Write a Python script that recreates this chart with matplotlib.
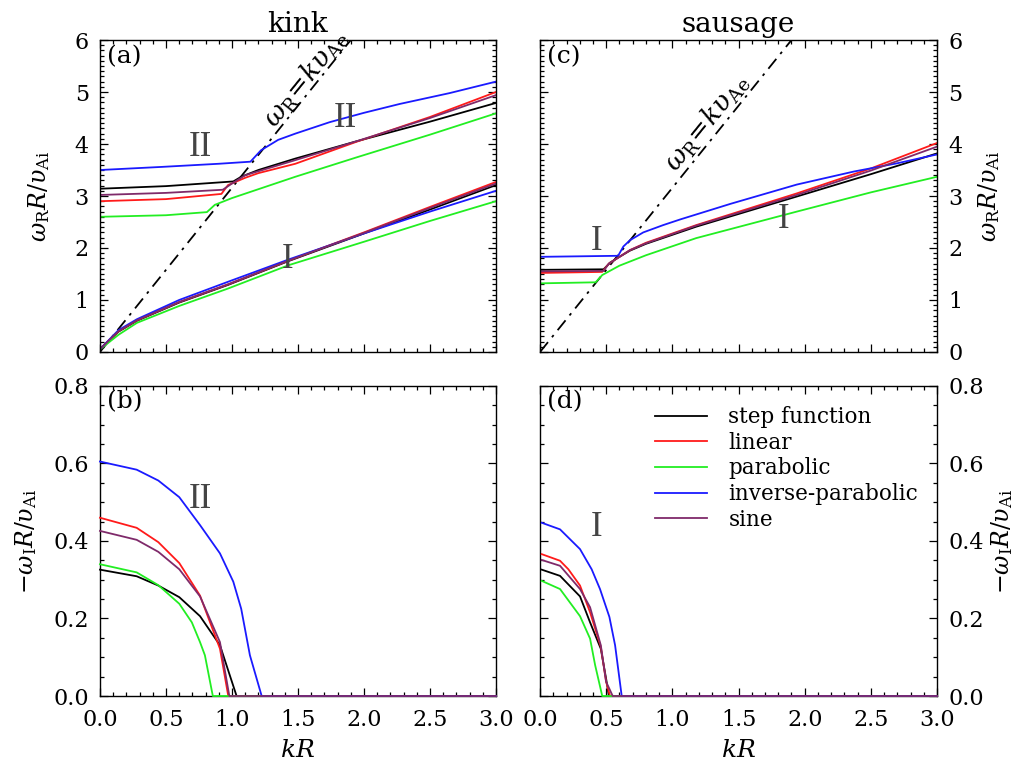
"""Kink / sausage dispersion diagrams: real and imaginary frequency vs kR
for five transition-layer profiles."""

import matplotlib
matplotlib.use("Agg")
import matplotlib.pyplot as plt
from matplotlib.ticker import MultipleLocator, FormatStrFormatter

plt.rcParams["font.family"] = ["DejaVu Serif", "DejaVu Sans"]
plt.rcParams["mathtext.fontset"] = "dejavuserif"

profiles = ["step function", "linear", "parabolic", "inverse-parabolic", "sine"]
colors = {"step function": "black", "linear": "#ff1a1a", "parabolic": "#22ee22",
          "inverse-parabolic": "#1a1aff", "sine": "#7f2a6a"}

# --- (a) kink, real part, branch II (upper) ---
kinkII_k = {
    "step function": [0.0, 0.5, 1.01, 1.07, 1.2, 1.48, 1.94, 2.5, 3.0],
    "linear": [0.0, 0.5, 0.92, 0.97, 1.1, 1.2, 1.48, 1.94, 2.5, 3.0],
    "parabolic": [0.0, 0.5, 0.81, 0.87, 1.0, 1.48, 1.94, 2.5, 3.0],
    "inverse-parabolic": [0.0, 0.47, 0.9, 1.14, 1.22, 1.35, 1.48, 1.74, 2.0,
                          2.27, 2.65, 3.0],
    "sine": [0.0, 0.5, 0.93, 1.0, 1.1, 1.48, 1.94, 2.5, 3.0],
}
kinkII_w = {
    "step function": [3.14, 3.19, 3.28, 3.37, 3.50, 3.72, 4.05, 4.43, 4.79],
    "linear": [2.90, 2.94, 3.04, 3.21, 3.35, 3.44, 3.62, 4.04, 4.52, 5.00],
    "parabolic": [2.60, 2.63, 2.69, 2.83, 2.96, 3.37, 3.74, 4.18, 4.59],
    "inverse-parabolic": [3.50, 3.56, 3.62, 3.66, 3.88, 4.08, 4.20, 4.42, 4.60,
                          4.77, 4.98, 5.20],
    "sine": [3.02, 3.06, 3.12, 3.24, 3.40, 3.69, 4.05, 4.50, 4.94],
}

# --- (a) kink, real part, branch I (lower) ---
kinkI_k = [0.01, 0.14, 0.28, 0.6, 0.97, 1.43, 2.0, 2.5, 3.0]
kinkI_w = {
    "step function": [0.08, 0.39, 0.60, 0.95, 1.29, 1.75, 2.28, 2.74, 3.21],
    "linear": [0.08, 0.40, 0.61, 0.96, 1.30, 1.76, 2.30, 2.79, 3.27],
    "parabolic": [0.07, 0.33, 0.56, 0.885, 1.22, 1.67, 2.12, 2.52, 2.90],
    "inverse-parabolic": [0.08, 0.42, 0.63, 1.00, 1.35, 1.78, 2.28, 2.70, 3.10],
    "sine": [0.08, 0.40, 0.61, 0.96, 1.30, 1.76, 2.29, 2.77, 3.24],
}

# --- (b) kink, damping rate ---
kink_im_k = {
    "step function": [0.0, 0.278, 0.442, 0.601, 0.758, 0.909, 1.035, 3.0],
    "linear": [0.0, 0.278, 0.442, 0.601, 0.758, 0.909, 0.972, 3.0],
    "parabolic": [0.0, 0.278, 0.442, 0.601, 0.696, 0.758, 0.795, 0.855, 3.0],
    "inverse-parabolic": [0.0, 0.278, 0.442, 0.601, 0.758, 0.909, 1.01, 1.07,
                          1.136, 1.225, 3.0],
    "sine": [0.0, 0.278, 0.442, 0.601, 0.758, 0.909, 0.98, 3.0],
}
kink_im_w = {
    "step function": [0.326, 0.309, 0.285, 0.255, 0.206, 0.131, 0.0, 0.0],
    "linear": [0.460, 0.434, 0.397, 0.343, 0.259, 0.122, 0.0, 0.0],
    "parabolic": [0.340, 0.319, 0.286, 0.238, 0.190, 0.139, 0.105, 0.0, 0.0],
    "inverse-parabolic": [0.605, 0.584, 0.556, 0.513, 0.441, 0.368, 0.295,
                          0.225, 0.105, 0.0, 0.0],
    "sine": [0.426, 0.403, 0.372, 0.327, 0.257, 0.139, 0.0, 0.0],
}

# --- (c) sausage, real part ---
saus_k = {
    "step function": [0.0, 0.48, 0.53, 0.6, 0.68, 0.8, 1.18, 1.94, 2.5, 3.0],
    "linear": [0.0, 0.47, 0.52, 0.6, 0.68, 0.8, 1.18, 1.94, 2.5, 3.0],
    "parabolic": [0.0, 0.42, 0.47, 0.6, 0.8, 1.18, 1.94, 2.5, 3.0],
    "inverse-parabolic": [0.0, 0.59, 0.63, 0.68, 0.78, 0.93, 1.06, 1.44, 1.94,
                          2.37, 2.7, 3.0],
    "sine": [0.0, 0.48, 0.52, 0.6, 0.68, 0.8, 1.18, 1.94, 2.5, 3.0],
}
saus_w = {
    "step function": [1.58, 1.59, 1.72, 1.83, 1.95, 2.08, 2.41, 2.99, 3.42, 3.82],
    "linear": [1.52, 1.54, 1.70, 1.83, 1.96, 2.10, 2.44, 3.05, 3.53, 4.02],
    "parabolic": [1.32, 1.34, 1.48, 1.66, 1.86, 2.19, 2.70, 3.07, 3.37],
    "inverse-parabolic": [1.83, 1.85, 2.03, 2.15, 2.30, 2.44, 2.55, 2.85, 3.22,
                          3.47, 3.63, 3.80],
    "sine": [1.55, 1.56, 1.70, 1.83, 1.96, 2.09, 2.43, 3.02, 3.49, 3.95],
}

# --- (d) sausage, damping rate ---
saus_im_k = {
    "step function": [0.013, 0.151, 0.302, 0.378, 0.459, 0.499, 0.52, 3.0],
    "linear": [0.013, 0.151, 0.214, 0.302, 0.378, 0.459, 0.499, 0.529, 3.0],
    "parabolic": [0.013, 0.151, 0.302, 0.378, 0.416, 0.47, 3.0],
    "inverse-parabolic": [0.013, 0.151, 0.302, 0.39, 0.453, 0.524, 0.567, 0.617,
                          3.0],
    "sine": [0.013, 0.151, 0.302, 0.378, 0.459, 0.499, 0.549, 3.0],
}
saus_im_w = {
    "step function": [0.326, 0.310, 0.257, 0.190, 0.122, 0.045, 0.0, 0.0],
    "linear": [0.366, 0.349, 0.327, 0.285, 0.216, 0.127, 0.037, 0.0, 0.0],
    "parabolic": [0.297, 0.276, 0.206, 0.148, 0.080, 0.0, 0.0],
    "inverse-parabolic": [0.447, 0.430, 0.379, 0.327, 0.276, 0.204, 0.131, 0.0,
                          0.0],
    "sine": [0.351, 0.336, 0.276, 0.229, 0.131, 0.037, 0.0, 0.0],
}

# external Alfven line omega_R = k v_Ae
vae_k = [0.0, 1.9]
vae_w = [0.0, 6.0]

fig = plt.figure(figsize=(10.18, 7.64), dpi=100)
axA = fig.add_axes([0.0982, 0.5393, 0.389, 0.4083])
axB = fig.add_axes([0.0982, 0.0890, 0.389, 0.4058])
axC = fig.add_axes([0.5305, 0.5393, 0.390, 0.4083])
axD = fig.add_axes([0.5305, 0.0890, 0.390, 0.4058])

TICK_FS = 16
dashdot = (0, (7, 3.5, 1.5, 3.5))
gray = "#444444"

for ax in (axA, axB, axC, axD):
    ax.set_xlim(0, 3)
    ax.xaxis.set_major_locator(MultipleLocator(0.5))
    ax.xaxis.set_minor_locator(MultipleLocator(0.1))
    ax.xaxis.set_major_formatter(FormatStrFormatter("%.1f"))
    ax.tick_params(which="both", direction="in", top=True, right=True,
                   left=True, bottom=True, labelsize=TICK_FS, width=0.9)
    ax.tick_params(which="major", length=6)
    ax.tick_params(which="minor", length=3)
    ax.tick_params(axis="x", which="major", pad=9)
    ax.tick_params(axis="y", which="major", pad=8)
    for sp in ax.spines.values():
        sp.set_linewidth(1.0)

for ax in (axA, axC):
    ax.set_ylim(0, 6)
    ax.yaxis.set_major_locator(MultipleLocator(1))
    ax.yaxis.set_minor_locator(MultipleLocator(0.1))
    ax.tick_params(labelbottom=False)
    ax.plot(vae_k, vae_w, color="black", lw=1.3, ls=dashdot)

for ax in (axB, axD):
    ax.set_ylim(0, 0.8)
    ax.yaxis.set_major_locator(MultipleLocator(0.2))
    ax.yaxis.set_minor_locator(MultipleLocator(0.05))
    ax.yaxis.set_major_formatter(FormatStrFormatter("%.1f"))
    ax.set_xlabel(r"$kR$", fontsize=18, labelpad=6)

for ax in (axC, axD):
    ax.tick_params(labelleft=False, labelright=True)
    ax.yaxis.set_label_position("right")

# curves
for p in profiles:
    c = colors[p]
    axA.plot(kinkII_k[p], kinkII_w[p], color=c, lw=1.3)
    axA.plot(kinkI_k, kinkI_w[p], color=c, lw=1.3)
    axC.plot(saus_k[p], saus_w[p], color=c, lw=1.3)
    axB.plot(kink_im_k[p], kink_im_w[p], color=c, lw=1.3, clip_on=False,
             zorder=3)
    axD.plot(saus_im_k[p], saus_im_w[p], color=c, lw=1.3, clip_on=False,
             zorder=3, label=p)

# labels
ylab_top = r"$\omega_{\rm R}R/\upsilon_{\rm Ai}$"
ylab_bot = r"$-\omega_{\rm I}R/\upsilon_{\rm Ai}$"
axA.set_ylabel(ylab_top, fontsize=17, labelpad=16)
axC.set_ylabel(ylab_top, fontsize=17, labelpad=10)
axB.set_ylabel(ylab_bot, fontsize=17, labelpad=10)
axD.set_ylabel(ylab_bot, fontsize=17, labelpad=4)
axA.set_title("kink", fontsize=20, pad=6)
axC.set_title("sausage", fontsize=20, pad=6)

for ax, tag in ((axA, "(a)"), (axB, "(b)"), (axC, "(c)"), (axD, "(d)")):
    ax.text(0.018, 0.985, tag, transform=ax.transAxes, fontsize=18,
            va="top", ha="left")

# Alfven-line labels
vae_lab = r"$\omega_{\rm R}\!=\!k\upsilon_{\rm Ae}$"
axA.text(1.56, 5.26, vae_lab, fontsize=19, rotation=51, ha="center",
         va="center", rotation_mode="anchor")
axC.text(1.26, 4.42, vae_lab, fontsize=19, rotation=51, ha="center",
         va="center", rotation_mode="anchor")

# branch numerals
num = dict(fontsize=25, color=gray, ha="center", va="center",
           family="Liberation Serif")
axA.text(0.76, 3.93, "II", **num)
axA.text(1.86, 4.50, "II", **num)
axA.text(1.42, 1.77, "I", **num)
axB.text(0.76, 0.507, "II", **num)
axC.text(0.43, 2.12, "I", **num)
axC.text(1.84, 2.54, "I", **num)
axD.text(0.43, 0.435, "I", **num)

axD.legend(loc="upper left", bbox_to_anchor=(0.29, 0.935), frameon=False,
           fontsize=15.5, handlelength=2.4, handletextpad=1.0,
           labelspacing=0.17, borderpad=0, borderaxespad=0)

fig.savefig("out.png", dpi=100)
